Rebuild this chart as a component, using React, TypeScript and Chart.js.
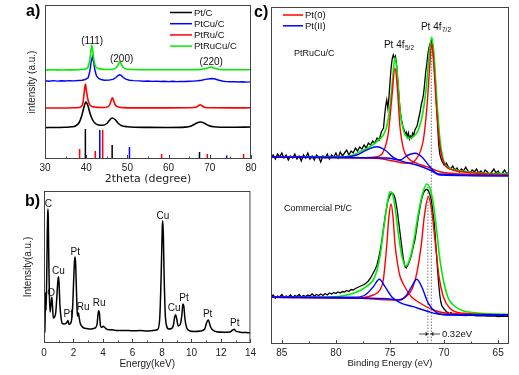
import React, { useEffect, useRef } from 'react';
import { Chart, registerables } from 'chart.js';
Chart.register(...registerables);

type P = [number, number];
const FONT = '"Liberation Sans", Arial, Helvetica, sans-serif';

// ---------- Panel a: XRD (2theta, intensity) ----------
const xrdPtC: P[] = [[30,31.4],[33,31.5],[35,31.7],[36.5,32.2],[37.5,33.3],[38.3,36.5],[38.9,43],[39.4,51],[39.9,57],[40.4,53.5],[40.9,46],[41.5,39.5],[42.2,35.5],[43,34],[44,33.8],[45,35.5],[45.6,38.5],[46.3,41],[47,39.5],[47.7,36],[48.5,33.5],[50,32.3],[55,31.6],[60,31.5],[64,31.9],[65.5,33],[66.5,35.3],[67.7,37],[68.7,35.8],[69.7,33.5],[71,32.2],[75,31.7],[80,32]];
const xrdPtCuC: P[] = [[30,78.2],[31,77.8],[32,78.4],[33,77.9],[34,78.3],[35,78.0],[36,78.4],[37,78.1],[38,78.5],[39,78.8],[39.8,79.5],[40.5,81.5],[40.9,88],[41.2,97],[41.5,102],[41.8,97],[42.1,89],[42.5,83],[43,80.5],[43.8,79.2],[44.5,78.8],[45.5,78.9],[46.5,79.6],[47.2,81.5],[47.7,83.5],[48.1,84.2],[48.5,83.6],[49,81.5],[49.6,79.8],[50.5,78.8],[51.5,78.4],[53,78.1],[54,77.7],[55,78.0],[56,77.6],[57,77.9],[58,77.5],[59,77.8],[60,77.4],[61,77.7],[62,77.4],[63,77.6],[64,77.5],[65,77.8],[66,77.9],[67,78.2],[68,78.8],[69,79.6],[70,80.3],[70.6,80.5],[71.3,80.0],[72,79.0],[73,78.0],[74,77.4],[75,77.2],[76,77.4],[77,77.0],[78,77.2],[79,76.9],[80,77.1]];
const xrdPtRuC: P[] = [[30,51],[35,51],[37.5,51.3],[38.7,52],[39.2,56],[39.5,66],[39.8,75],[40.1,67],[40.5,58],[41,53.5],[42,52],[43.5,51.5],[45,51.8],[45.7,54],[46.1,59],[46.35,61.3],[46.6,59],[47,54.5],[47.6,52.2],[49,51.4],[55,51.1],[60,51.1],[65,51.2],[66.8,52],[67.3,53.5],[67.7,54.3],[68.1,53.3],[68.7,51.8],[70,51.2],[75,51.1],[80,51.2]];
const xrdPtRuCuC: P[] = [[30,89],[32,89.2],[34,89],[36,89.1],[38,89.3],[39.5,89.8],[40.3,91],[40.8,97],[41.1,106],[41.35,114],[41.6,108],[41.9,98],[42.3,92.5],[43,90.5],[44,89.8],[46,89.5],[47.2,91],[47.7,94],[48.1,97],[48.5,95],[49,91.5],[50,89.8],[55,89.3],[60,89.2],[65,89.2],[68,89.6],[69.5,91],[70.3,92],[71.2,90.8],[72.5,89.5],[75,89.2],[80,89.2]];
// reference (JCPDS) stick patterns: [2theta, height]
const refPt: P[] = [[39.8,30],[46.3,14],[67.5,7]];
const refCu: P[] = [[43.3,29],[50.5,12],[74.1,3.5]];
const refRu: P[] = [[38.4,10],[42.2,8],[44.0,29],[58.3,5],[69.4,5],[78.2,5]];
const xrdNames = ['Pt/C', 'PtCu/C', 'PtRu/C', 'PtRuCu/C'];
const xrdPeakText = ['(111)', '(200)', '(220)'];
const xrdPeakAt: P[] = [[41.45,118],[48.6,100],[70.35,96.5]];

// ---------- Panel b: EDX (keV, counts) ----------
const edx: P[] = [[0,10],[0.05,11],[0.08,30],[0.09,50],[0.11,46],[0.14,33],[0.18,62],[0.22,106],[0.25,128],[0.27,134],[0.29,125],[0.32,90],[0.36,52],[0.41,31],[0.47,38],[0.53,45.7],[0.57,39],[0.63,25],[0.72,26],[0.8,31],[0.87,46],[0.93,60],[0.98,66.3],[1.02,60],[1.08,38],[1.15,26],[1.22,20],[1.35,19],[1.48,19.5],[1.57,21],[1.63,22.5],[1.7,18.5],[1.8,19.5],[1.88,24],[1.95,38],[2.02,66],[2.07,82],[2.11,86],[2.15,78],[2.2,53],[2.25,31],[2.3,27],[2.34,30],[2.38,26],[2.45,20],[2.55,17],[2.7,15],[2.9,14.5],[3.1,14],[3.3,14.3],[3.5,15.5],[3.6,19],[3.66,28],[3.71,32.3],[3.76,30],[3.82,18],[3.9,15.5],[4.02,16.8],[4.12,15.5],[4.3,13.5],[4.6,13.2],[5.0,12.4],[5.5,12.6],[6.0,12.2],[6.5,12.5],[7.0,12],[7.4,12.4],[7.7,13.5],[7.85,25],[7.95,70],[8.02,115],[8.05,122.3],[8.09,110],[8.15,65],[8.22,30],[8.3,18],[8.45,14],[8.65,14.5],[8.78,18],[8.86,26],[8.93,28.3],[9.0,24],[9.1,17],[9.25,19],[9.35,28],[9.42,39],[9.48,37],[9.56,24],[9.68,15],[9.9,12],[10.2,11.5],[10.6,12],[10.9,14],[11.0,19],[11.08,22],[11.15,23],[11.22,20],[11.3,16],[11.45,13],[11.7,11.3],[12.2,10.8],[12.6,11],[12.8,13],[12.9,13.7],[13.0,12],[13.3,10.8],[13.7,10.5],[14.0,10]];
const edxPeakText = ['C', 'O', 'Cu', 'Pt', 'Pt', 'Ru', 'Ru', 'Cu', 'Cu', 'Pt', 'Pt', 'Pt'];
const edxPeakAt: P[] = [[0.29,139],[0.49,50],[0.97,72],[2.12,91],[1.64,29],[2.66,36],[3.74,40],[8.07,127],[8.82,35],[9.49,45],[11.1,29],[12.94,20]];

// ---------- Panel c: XPS Pt 4f (binding energy eV, intensity) ----------
const topRaw: P[] = [[86.0,186],[85.8,189],[85.6,185],[85.4,190],[85.2,187],[85.0,191],[84.8,186],[84.6,189],[84.4,184],[84.2,188],[84.0,186],[83.8,190],[83.6,185],[83.4,188],[83.2,183],[83.0,189],[82.8,186],[82.6,191],[82.4,185],[82.2,188],[82.0,184],[81.8,189],[81.6,187],[81.4,182],[81.2,188],[81.0,186],[80.8,190],[80.6,185],[80.4,189],[80.2,187],[80.0,191],[79.8,186],[79.6,192],[79.4,188],[79.2,191],[79.0,194],[78.8,189],[78.6,193],[78.4,191],[78.2,196],[78.0,193],[77.8,197],[77.6,195],[77.4,199],[77.2,196],[77.0,201],[76.8,199],[76.6,203],[76.4,201],[76.2,206],[76.0,204],[75.8,212],[75.6,216],[75.5,228],[75.4,238],[75.3,244],[75.2,236],[75.1,246],[75.0,262],[74.9,276],[74.8,285],[74.7,289],[74.6,286],[74.5,288],[74.4,280],[74.3,266],[74.2,252],[74.1,238],[74.0,228],[73.9,222],[73.8,217],[73.7,214],[73.6,210],[73.5,212],[73.4,207],[73.3,211],[73.2,205],[73.1,208],[73.0,206],[72.9,211],[72.8,209],[72.7,214],[72.6,216],[72.5,218],[72.4,223],[72.3,228],[72.2,233],[72.1,240],[72.0,244],[71.9,250],[71.8,260],[71.7,272],[71.6,280],[71.5,290],[71.4,296],[71.3,300],[71.2,303],[71.1,299],[71.0,290],[70.9,276],[70.8,260],[70.7,240],[70.6,220],[70.5,200],[70.4,190],[70.3,186],[70.2,183],[70.0,179],[69.8,181],[69.6,177],[69.4,175],[69.2,178],[69.0,174],[68.8,176],[68.6,172],[68.4,175],[68.2,173],[68.0,177],[67.8,173],[67.6,171],[67.4,174],[67.2,172],[67.0,175],[66.8,171],[66.6,173],[66.4,170],[66.2,174],[66.0,172],[65.8,169],[65.6,172],[65.4,175],[65.2,171],[65.0,173],[64.8,169],[64.6,171],[64.4,174],[64.2,170],[64.0,172]];
const topEnvelope: P[] = [[86,187.3],[79.3,187.3],[78.39,189],[77.77,192.3],[76.85,197.3],[76.23,202.3],[75.62,209],[75.31,217.3],[75.0,237.3],[74.79,260.7],[74.54,286.7],[74.33,270.7],[74.08,234],[73.77,214],[73.46,207.3],[73.15,205.7],[72.85,207.3],[72.38,214],[71.92,234],[71.61,260.7],[71.37,290.7],[71.15,306.7],[70.94,290.7],[70.69,247.3],[70.38,204],[70.07,184],[69.76,177.3],[68.53,173.3],[66.99,171.3],[63.9,170]];
const topPt0a: P[] = [[86,187.3],[77.77,186.3],[76.23,187.3],[75.62,192.3],[75.16,210.7],[74.85,244],[74.54,275.7],[74.33,257.3],[74.08,217.3],[73.77,195.7],[73.31,185.7],[72.53,180.7],[71.61,177.3],[70.38,172.3],[68.53,170],[63.9,169]];
const topPt0b: P[] = [[86,186.7],[76.23,185.7],[74.7,183],[73.46,180.7],[72.53,185.7],[71.92,204],[71.61,234],[71.37,270.7],[71.15,300.7],[70.94,277.3],[70.69,234],[70.38,197.3],[69.92,179],[69.15,174],[66.99,170.7],[63.9,169]];
const topPt2a: P[] = [[86,186.7],[79.32,186.7],[78.07,189],[77.16,194],[76.23,197.3],[75.46,194],[74.7,186.7],[73.77,182.3],[72.53,179],[71.31,174],[70.38,169],[63.9,168.3]];
const topPt2b: P[] = [[86,186.7],[75.31,186],[74.08,184],[73.31,189],[72.69,190.7],[72.07,187.3],[71.31,177.3],[70.53,170],[63.9,168.3]];

const botRaw: P[] = [[86.0,47],[85.8,49],[85.6,46],[85.4,48],[85.2,47],[85.0,49.5],[84.8,46.5],[84.6,48],[84.4,47],[84.2,49],[84.0,46.5],[83.8,48.5],[83.6,47.5],[83.4,49.5],[83.2,47],[83.0,48.5],[82.8,47.5],[82.6,49],[82.4,48],[82.2,50],[82.0,48],[81.8,49.5],[81.6,48.5],[81.4,50],[81.2,48.5],[81.0,50.5],[80.8,49],[80.6,51],[80.4,50],[80.2,51.5],[80.0,50.5],[79.8,52],[79.6,51],[79.4,52.5],[79.2,52],[79.0,53.5],[78.8,52.5],[78.6,54.5],[78.4,54],[78.2,55.5],[78.0,56.5],[77.8,57.5],[77.6,58.5],[77.4,59.5],[77.2,61],[77.0,63],[76.8,66],[76.6,70],[76.4,74],[76.2,79],[76.0,88],[75.8,100],[75.6,116],[75.4,131],[75.2,143],[75.0,149],[74.9,150.5],[74.8,150.7],[74.7,150],[74.6,148],[74.5,144],[74.4,138],[74.3,131],[74.2,122],[74.0,105],[73.9,96],[73.8,88],[73.7,81],[73.6,77],[73.5,76],[73.4,78],[73.3,80],[73.2,83],[73.1,86],[73.0,90],[72.9,95],[72.8,100],[72.7,104],[72.6,111],[72.5,118],[72.4,126],[72.3,132],[72.2,138],[72.1,144],[72.0,148],[71.9,151],[71.8,153],[71.7,154.5],[71.6,154.7],[71.5,154],[71.4,152],[71.3,149],[71.2,145],[71.1,138],[71.0,128],[70.9,120],[70.8,104],[70.7,90],[70.6,74],[70.5,60],[70.4,49],[70.3,42],[70.2,38],[70.0,35],[69.8,32.5],[69.6,31],[69.5,30],[69.4,31.5],[69.2,30.5],[69.0,29.5],[68.5,29],[68.0,28.5],[67.5,28.8],[67.0,28.2],[66.5,28.5],[66.0,27.8],[65.5,28.2],[65.0,27.5],[64.5,27.8],[64.0,27.3]];
const botEnvelope: P[] = [[86,46.7],[81,46.7],[78.4,50.7],[77.2,57.3],[76.4,67.3],[75.93,87.3],[75.56,117.3],[75.25,140.7],[75.0,152.3],[74.79,150.7],[74.54,137.3],[74.23,110.7],[73.92,89],[73.55,78],[73.15,85.7],[72.78,104],[72.38,130.7],[71.98,150.7],[71.61,160],[71.31,155.7],[71.0,140.7],[70.69,114],[70.38,84],[70.07,64],[69.61,45.7],[69.15,39],[67.91,32.3],[63.9,29.7]];
const botPt0a: P[] = [[86,46.7],[77.77,46],[76.54,49],[75.93,54],[75.62,64],[75.31,97.3],[75.1,127],[74.91,140],[74.72,127],[74.54,100],[74.3,80],[74.08,68],[73.77,60],[73.46,54],[73.0,47],[72.23,41],[71.0,34],[69.76,30.7],[63.9,29]];
const botPt0b: P[] = [[86,46.7],[77.77,45.7],[74.7,44],[73.6,46.7],[73.0,54],[72.53,70.7],[72.13,97.3],[71.83,127.3],[71.46,147.3],[71.15,134],[70.84,104],[70.47,67.3],[70.07,47.3],[69.46,35.7],[68.22,30.7],[63.9,29]];
const botPt2a: P[] = [[86,46.7],[78.39,46.7],[77.3,49],[76.54,57.3],[75.99,64.7],[75.46,57.3],[74.85,47.3],[74.08,41.3],[72.85,37.3],[71.61,33],[70.38,29.7],[63.9,29]];
const botPt2b: P[] = [[86,46.7],[75.31,45.3],[74.08,44],[73.46,49],[73.0,57.3],[72.53,64.7],[72.07,57.3],[71.46,40.7],[70.69,31.3],[69.76,29],[63.9,29]];
const shiftLines: P[] = [[71.18,304],[71.5,160]]; // [eV, top]
const shiftLabel = '0.32eV';
const xpsNames = ['Pt(0)', 'Pt(II)'];

// ---------- helpers ----------
const xy = (p: P[]) => p.map(([x, y]) => ({ x, y }));
function line(p: P[], color: string, width = 1.5, smooth = true): any {
  return {
    data: xy(p), borderColor: color, borderWidth: width, pointRadius: 0, fill: false,
    cubicInterpolationMode: smooth ? 'monotone' : 'default', tension: 0,
  };
}
function sticks(list: P[], color: string): any {
  const data: any[] = [];
  list.forEach(([x, h]) => { data.push({ x, y: 0 }, { x, y: h }, { x, y: null }); });
  return { data, borderColor: color, borderWidth: 1.5, pointRadius: 0, spanGaps: false };
}

function frameTicks(major: number, minor: number) {
  return {
    id: 'frameTicks',
    afterDatasetsDraw(chart: any) {
      const { ctx, chartArea: ca } = chart;
      const xs = chart.scales.x;
      ctx.save();
      ctx.strokeStyle = '#444';
      ctx.lineWidth = 1;
      ctx.strokeRect(ca.left + 0.5, ca.top + 0.5, ca.right - ca.left - 1, ca.bottom - ca.top - 1);
      ctx.beginPath();
      const lo = Math.ceil(xs.min / minor - 1e-9), hi = Math.floor(xs.max / minor + 1e-9);
      for (let k = lo; k <= hi; k++) {
        const v = k * minor;
        const px = Math.round(xs.getPixelForValue(v)) + 0.5;
        const isMajor = Math.abs(v / major - Math.round(v / major)) < 1e-6;
        const len = isMajor ? 4 : 2.5;
        ctx.moveTo(px, ca.bottom);
        ctx.lineTo(px, ca.bottom - len);
      }
      ctx.stroke();
      ctx.restore();
    },
  };
}

type Txt = { t: string; at: P; sub?: string; align?: CanvasTextAlign; size?: number };
function textPlugin(items: Txt[]) {
  return {
    id: 'texts',
    afterDatasetsDraw(chart: any) {
      const { ctx } = chart;
      const xs = chart.scales.x, ys = chart.scales.y;
      ctx.save();
      ctx.fillStyle = '#111';
      ctx.textBaseline = 'middle';
      items.forEach((it) => {
        const size = it.size ?? 10;
        const px = xs.getPixelForValue(it.at[0]);
        const py = ys.getPixelForValue(it.at[1]);
        ctx.font = `${size}px ${FONT}`;
        ctx.textAlign = it.align ?? 'center';
        ctx.fillText(it.t, px, py);
        if (it.sub) {
          const w = ctx.measureText(it.t).width;
          ctx.font = `${size * 0.65}px ${FONT}`;
          ctx.textAlign = 'left';
          ctx.fillText(it.sub, px + w + 0.5, py + 3.5);
        }
      });
      ctx.restore();
    },
  };
}

function legendPlugin(names: string[], colors: string[], x0: number, x1: number, tx: number, dy0: number, step: number, size: number) {
  return {
    id: 'customLegend',
    afterDatasetsDraw(chart: any) {
      const { ctx, chartArea: ca } = chart;
      ctx.save();
      ctx.textBaseline = 'middle';
      ctx.textAlign = 'left';
      ctx.font = `${size}px ${FONT}`;
      names.forEach((n, i) => {
        const y = ca.top + dy0 + i * step;
        ctx.strokeStyle = colors[i];
        ctx.lineWidth = 1.5;
        ctx.beginPath();
        ctx.moveTo(ca.left + x0, y);
        ctx.lineTo(ca.left + x1, y);
        ctx.stroke();
        ctx.fillStyle = '#111';
        ctx.fillText(n, ca.left + tx, y + 0.5);
      });
      ctx.restore();
    },
  };
}

const BLACK = '#000000', BLUE = '#0000ff', RED = '#ff0000', GREEN = '#00ee00';

function baseOptions(): any {
  return {
    responsive: false,
    animation: false,
    events: [],
    plugins: { legend: { display: false }, tooltip: { enabled: false } },
  };
}

export default function App() {
  const aRef = useRef<HTMLCanvasElement>(null);
  const bRef = useRef<HTMLCanvasElement>(null);
  const cRef = useRef<HTMLCanvasElement>(null);

  useEffect(() => {
    Chart.defaults.font.family = FONT;
    Chart.defaults.color = '#222';
    const charts: Chart[] = [];

    // ----- a -----
    charts.push(new Chart(aRef.current!, {
      type: 'line',
      data: {
        datasets: [
          line(xrdPtRuCuC, GREEN, 1.6),
          line(xrdPtCuC, BLUE, 1.4, false),
          line(xrdPtRuC, RED, 1.6),
          line(xrdPtC, BLACK, 1.6),
          sticks(refPt, BLACK),
          sticks(refCu, BLUE),
          sticks(refRu, RED),
        ],
      },
      options: {
        ...baseOptions(),
        layout: { padding: { left: 20, top: 5, right: 9, bottom: 0 } },
        scales: {
          x: {
            type: 'linear', min: 30, max: 80,
            grid: { display: false, drawTicks: false }, border: { display: false },
            ticks: { stepSize: 10, padding: 3, font: { size: 10 }, color: '#222' },
            title: { display: true, text: '2theta (degree)', font: { size: 11, family: '"DejaVu Sans", sans-serif' }, padding: { top: 0, bottom: 4 }, color: '#222' },
            afterFit: (s: any) => { s.height = 31; },
          },
          y: {
            min: 0, max: 154,
            grid: { display: false, drawTicks: false }, border: { display: false },
            ticks: { display: false },
            title: { display: true, text: 'intensity (a.u.)', font: { size: 10 }, padding: { top: 6, bottom: 0 }, color: '#222' },
            afterFit: (s: any) => { s.width = 25; },
          },
        },
      } as any,
      plugins: [
        frameTicks(10, 5),
        textPlugin(xrdPeakText.map((t, i) => ({ t, at: xrdPeakAt[i] }))),
        legendPlugin(xrdNames, [BLACK, BLUE, RED, GREEN], 125, 147, 149, 7.5, 11.2, 9.5),
      ],
    }));

    // ----- b -----
    charts.push(new Chart(bRef.current!, {
      type: 'line',
      data: { datasets: [line(edx, BLACK, 1.5)] },
      options: {
        ...baseOptions(),
        layout: { padding: { left: 16, top: 1, right: 9, bottom: 0 } },
        scales: {
          x: {
            type: 'linear', min: 0, max: 14,
            grid: { display: false, drawTicks: false }, border: { display: false },
            ticks: { stepSize: 2, padding: 4, font: { size: 10 }, color: '#222' },
            title: { display: true, text: 'Energy(keV)', font: { size: 10 }, padding: { top: 0, bottom: 5 }, color: '#222' },
            afterFit: (s: any) => { s.height = 32; },
          },
          y: {
            min: 0, max: 152,
            grid: { display: false, drawTicks: false }, border: { display: false },
            ticks: { display: false },
            title: { display: true, text: 'Intensity(a.u.)', font: { size: 10 }, padding: { top: 6, bottom: 0 }, color: '#222' },
            afterFit: (s: any) => { s.width = 28; },
          },
        },
      } as any,
      plugins: [
        frameTicks(2, 1),
        textPlugin(edxPeakText.map((t, i) => ({ t, at: edxPeakAt[i] }))),
      ],
    }));

    // ----- c -----
    const dotted = shiftLines.map(([x, top]) => ({
      data: [{ x, y: 0 }, { x, y: top }], borderColor: '#777', borderWidth: 1,
      borderDash: [1.5, 1.5], pointRadius: 0,
    }));
    const arrow = (from: number, to: number, rot: number) => ({
      data: [{ x: from, y: 10 }, { x: to, y: 10 }], borderColor: '#222', borderWidth: 0.8,
      pointRadius: (c: any) => (c.dataIndex === 1 ? 2.4 : 0), pointStyle: 'triangle', rotation: rot,
      pointBackgroundColor: '#222', pointBorderWidth: 0,
    });
    charts.push(new Chart(cRef.current!, {
      type: 'line',
      data: {
        datasets: [
          line(topPt2a, BLUE, 1.4), line(topPt2b, BLUE, 1.4),
          line(botPt2a, BLUE, 1.4), line(botPt2b, BLUE, 1.4),
          line(topPt0a, RED, 1.4), line(topPt0b, RED, 1.4),
          line(botPt0a, RED, 1.4), line(botPt0b, RED, 1.4),
          line(topEnvelope, GREEN, 1.6), line(botEnvelope, GREEN, 1.6),
          line(topRaw, BLACK, 1.3, false), line(botRaw, BLACK, 1.3, false),
          ...dotted,
          arrow(72.32, 71.6, 90), arrow(70.38, 71.1, -90),
        ],
      },
      options: {
        ...baseOptions(),
        layout: { padding: { left: 11, top: 7, right: 10, bottom: 0 } },
        scales: {
          x: {
            type: 'linear', min: 64, max: 86, reverse: true,
            grid: { display: false, drawTicks: false }, border: { display: false },
            ticks: { stepSize: 5, padding: 3, includeBounds: false, font: { size: 10 }, color: '#222' },
            title: { display: true, text: 'Binding Energy (eV)', font: { size: 9.5 }, padding: { top: 0, bottom: 6 }, color: '#222' },
            afterFit: (s: any) => { s.height = 31; },
          },
          y: { display: false, min: 0, max: 337 },
        },
      } as any,
      plugins: [
        frameTicks(5, 2.5),
        textPlugin([
          { t: 'PtRuCu/C', at: [83.87, 290], align: 'left', size: 9 },
          { t: 'Pt 4f', sub: '5/2', at: [75.56, 299], align: 'left', size: 10 },
          { t: 'Pt 4f', sub: '7/2', at: [72.14, 317], align: 'left', size: 10 },
          { t: 'Commercial Pt/C', at: [84.8, 135], align: 'left', size: 9 },
          { t: shiftLabel, at: [70.2, 10], align: 'left', size: 9.5 },
        ]),
        legendPlugin(xpsNames, [RED, BLUE], 12, 32, 34, 8, 10.8, 9.5),
      ],
    }));

    return () => charts.forEach((c) => c.destroy());
  }, []);

  const lbl: React.CSSProperties = { position: 'absolute', fontFamily: FONT, fontWeight: 'bold', fontSize: 16, lineHeight: '16px', color: '#000' };
  return (
    <div style={{ position: 'absolute', left: 0, top: 0, width: 519, height: 375, background: '#fff', overflow: 'hidden' }}>
      <canvas ref={aRef} width={260} height={190} style={{ position: 'absolute', left: 0, top: 0, width: 260, height: 190 }} />
      <canvas ref={bRef} width={260} height={185} style={{ position: 'absolute', left: 0, top: 190, width: 260, height: 185 }} />
      <canvas ref={cRef} width={259} height={375} style={{ position: 'absolute', left: 260, top: 0, width: 259, height: 375 }} />
      <div style={{ ...lbl, left: 26, top: 3 }}>a)</div>
      <div style={{ ...lbl, left: 25, top: 193 }}>b)</div>
      <div style={{ ...lbl, left: 254, top: 4 }}>c)</div>
    </div>
  );
}
